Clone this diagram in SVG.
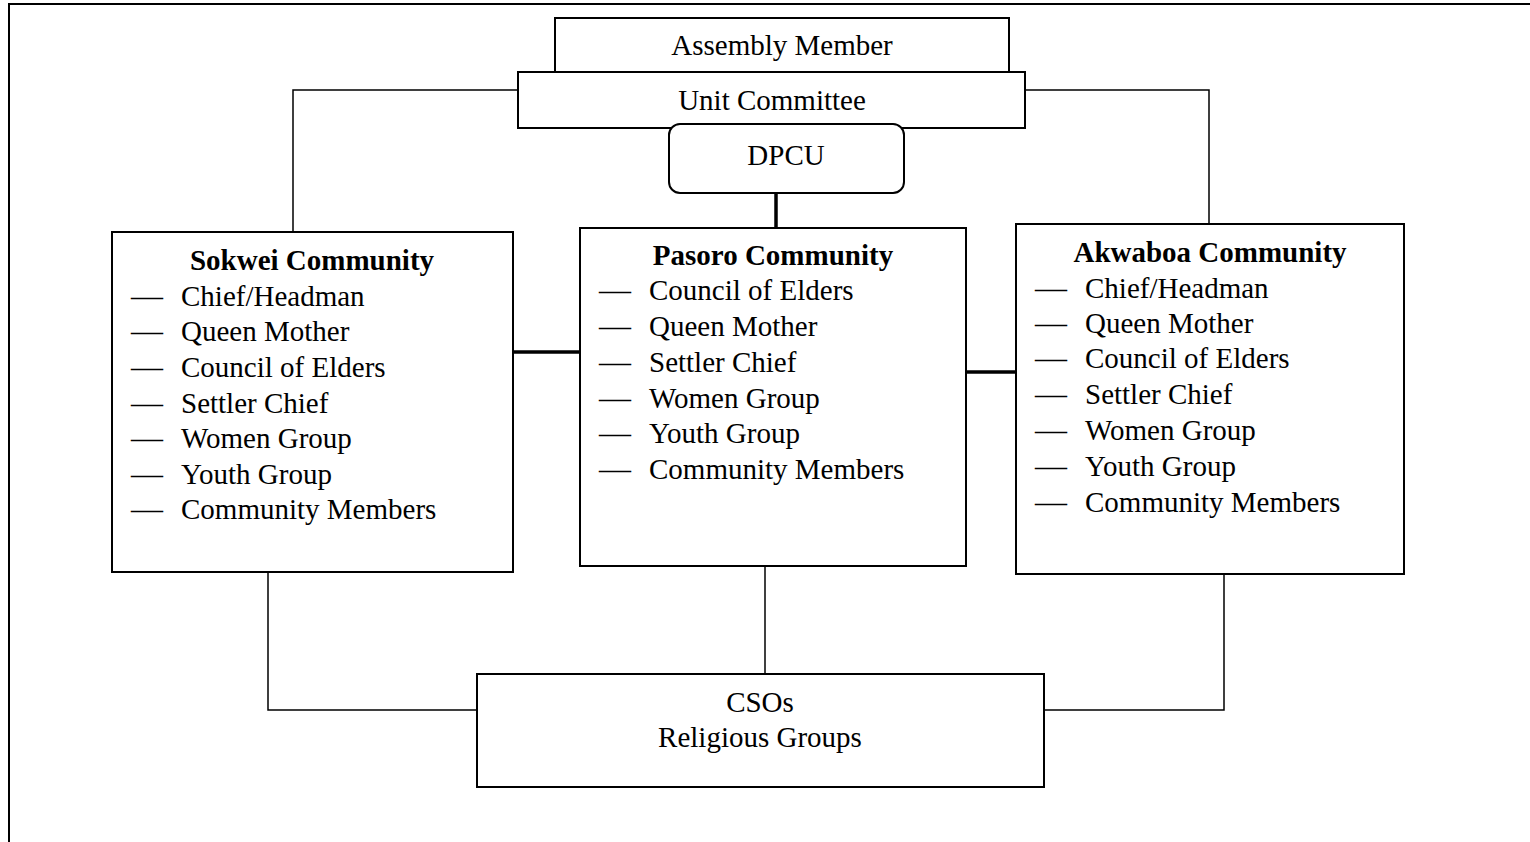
<svg xmlns="http://www.w3.org/2000/svg" width="1530" height="842" viewBox="0 0 1530 842">
  <style>
    text { font-family: "Liberation Serif", "Times New Roman", serif; font-size: 29px; fill: #000; }
    .title { font-weight: bold; text-anchor: middle; }
    .mid { text-anchor: middle; }
    .box { fill: #fff; stroke: #000; stroke-width: 2; }
    .thin { fill: none; stroke: #000; stroke-width: 1.5; }
    .thick { fill: none; stroke: #000; stroke-width: 3.5; }
    .frame { fill: none; stroke: #000; stroke-width: 2; }
  </style>

  <!-- page frame -->
  <path class="frame" d="M9,842 V4 H1530"/>

  <!-- connectors -->
  <g id="connectors">
    <path class="thin" d="M518,90 H293 V232"/>
    <path class="thin" d="M1025,90 H1209 V224"/>
    <path class="thick" d="M776,193 V228"/>
    <path class="thick" d="M513,352 H580"/>
    <path class="thick" d="M966,372 H1016"/>
    <path class="thin" d="M268,572 V710 H477"/>
    <path class="thin" d="M1224,574 V710 H1044"/>
    <path class="thin" d="M765,566 V674"/>
  </g>

  <g id="assembly-member">
    <rect class="box" x="555" y="18" width="454" height="54"/>
    <text class="mid" x="782" y="55">Assembly Member</text>
  </g>

  <g id="unit-committee">
    <rect class="box" x="518" y="72" width="507" height="56"/>
    <text class="mid" x="772" y="110">Unit Committee</text>
  </g>

  <g id="dpcu">
    <rect class="box" x="669" y="124" width="235" height="69" rx="11" ry="11"/>
    <text class="mid" x="786" y="165">DPCU</text>
  </g>

  <g id="sokwei">
    <rect class="box" x="112" y="232" width="401" height="340"/>
    <text class="title" x="312" y="270">Sokwei Community</text>
    <g>
      <text x="131" y="306" textLength="32" lengthAdjust="spacingAndGlyphs">—</text><text x="181" y="306">Chief/Headman</text>
      <text x="131" y="341" textLength="32" lengthAdjust="spacingAndGlyphs">—</text><text x="181" y="341">Queen Mother</text>
      <text x="131" y="377" textLength="32" lengthAdjust="spacingAndGlyphs">—</text><text x="181" y="377">Council of Elders</text>
      <text x="131" y="413" textLength="32" lengthAdjust="spacingAndGlyphs">—</text><text x="181" y="413">Settler Chief</text>
      <text x="131" y="448" textLength="32" lengthAdjust="spacingAndGlyphs">—</text><text x="181" y="448">Women Group</text>
      <text x="131" y="484" textLength="32" lengthAdjust="spacingAndGlyphs">—</text><text x="181" y="484">Youth Group</text>
      <text x="131" y="519" textLength="32" lengthAdjust="spacingAndGlyphs">—</text><text x="181" y="519">Community Members</text>
    </g>
  </g>

  <g id="pasoro">
    <rect class="box" x="580" y="228" width="386" height="338"/>
    <text class="title" x="773" y="265">Pasoro Community</text>
    <g>
      <text x="599" y="300" textLength="32" lengthAdjust="spacingAndGlyphs">—</text><text x="649" y="300">Council of Elders</text>
      <text x="599" y="336" textLength="32" lengthAdjust="spacingAndGlyphs">—</text><text x="649" y="336">Queen Mother</text>
      <text x="599" y="372" textLength="32" lengthAdjust="spacingAndGlyphs">—</text><text x="649" y="372">Settler Chief</text>
      <text x="599" y="408" textLength="32" lengthAdjust="spacingAndGlyphs">—</text><text x="649" y="408">Women Group</text>
      <text x="599" y="443" textLength="32" lengthAdjust="spacingAndGlyphs">—</text><text x="649" y="443">Youth Group</text>
      <text x="599" y="479" textLength="32" lengthAdjust="spacingAndGlyphs">—</text><text x="649" y="479">Community Members</text>
    </g>
  </g>

  <g id="akwaboa">
    <rect class="box" x="1016" y="224" width="388" height="350"/>
    <text class="title" x="1210" y="262">Akwaboa Community</text>
    <g>
      <text x="1035" y="298" textLength="32" lengthAdjust="spacingAndGlyphs">—</text><text x="1085" y="298">Chief/Headman</text>
      <text x="1035" y="333" textLength="32" lengthAdjust="spacingAndGlyphs">—</text><text x="1085" y="333">Queen Mother</text>
      <text x="1035" y="368" textLength="32" lengthAdjust="spacingAndGlyphs">—</text><text x="1085" y="368">Council of Elders</text>
      <text x="1035" y="404" textLength="32" lengthAdjust="spacingAndGlyphs">—</text><text x="1085" y="404">Settler Chief</text>
      <text x="1035" y="440" textLength="32" lengthAdjust="spacingAndGlyphs">—</text><text x="1085" y="440">Women Group</text>
      <text x="1035" y="476" textLength="32" lengthAdjust="spacingAndGlyphs">—</text><text x="1085" y="476">Youth Group</text>
      <text x="1035" y="512" textLength="32" lengthAdjust="spacingAndGlyphs">—</text><text x="1085" y="512">Community Members</text>
    </g>
  </g>

  <g id="csos">
    <rect class="box" x="477" y="674" width="567" height="113"/>
    <text class="mid" x="760" y="712">CSOs</text>
    <text class="mid" x="760" y="747">Religious Groups</text>
  </g>
</svg>
